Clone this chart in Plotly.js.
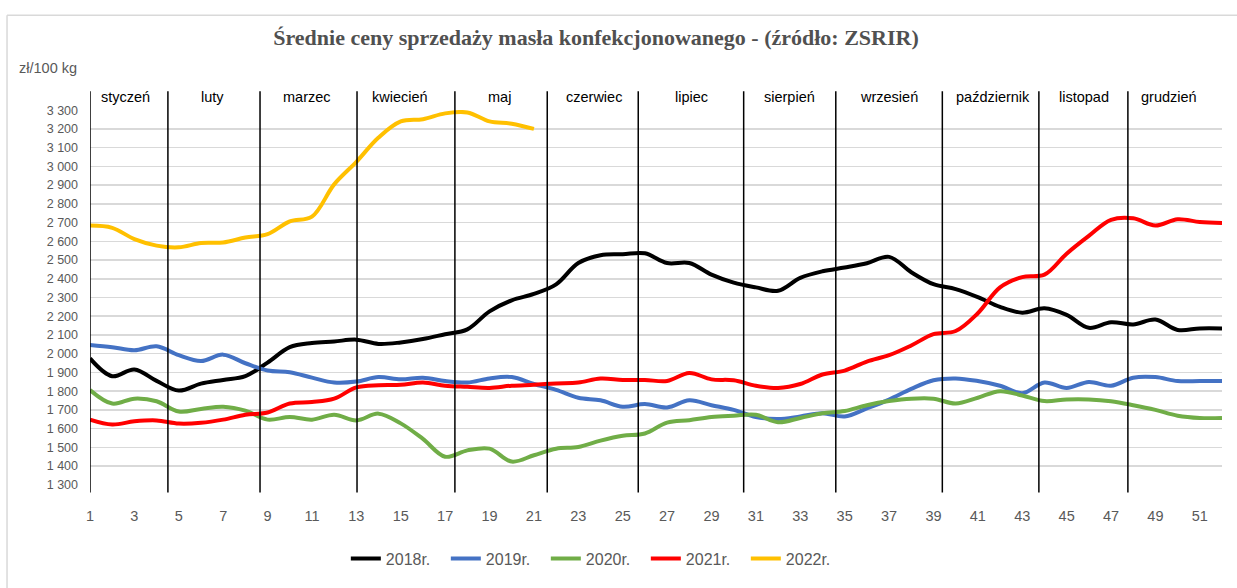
<!DOCTYPE html>
<html>
<head>
<meta charset="utf-8">
<script src="https://cdn.plot.ly/plotly-3.0.1.min.js"></script>
<style>html,body{margin:0;padding:0;background:#fff;}#chart{width:1237px;height:588px;}</style>
</head>
<body>
<div id="chart"></div>
<script>
// ---- data ----
const weeks = [1,2,3,4,5,6,7,8,9,10,11,12,13,14,15,16,17,18,19,20,21,22,23,24,25,26,27,28,29,30,31,32,33,34,35,36,37,38,39,40,41,42,43,44,45,46,47,48,49,50,51,52];
const s2018 = [1975,1880,1916,1855,1803,1840,1860,1880,1952,2035,2057,2065,2075,2052,2060,2078,2104,2130,2226,2285,2319,2370,2484,2526,2531,2536,2484,2484,2422,2379,2354,2336,2405,2440,2460,2483,2517,2435,2371,2345,2302,2250,2219,2242,2207,2138,2168,2156,2182,2127,2135,2135];
const s2019 = [2047,2035,2018,2040,1992,1961,1995,1949,1910,1901,1872,1846,1851,1875,1863,1872,1854,1846,1868,1875,1838,1807,1765,1751,1717,1731,1713,1751,1725,1700,1662,1651,1665,1682,1665,1708,1755,1812,1858,1868,1854,1829,1789,1846,1817,1849,1829,1872,1875,1854,1854,1854];
const s2020 = [1806,1734,1760,1746,1691,1705,1717,1696,1648,1662,1648,1674,1644,1680,1628,1545,1450,1484,1493,1424,1458,1493,1502,1536,1562,1574,1632,1645,1662,1669,1674,1634,1657,1682,1694,1725,1747,1760,1760,1734,1765,1800,1777,1747,1756,1756,1746,1725,1700,1669,1657,1657];
const s2021 = [1648,1622,1639,1644,1627,1631,1648,1674,1686,1734,1742,1760,1820,1832,1834,1846,1829,1823,1817,1829,1834,1841,1846,1867,1860,1860,1854,1897,1863,1858,1829,1817,1838,1889,1910,1958,1992,2044,2104,2121,2216,2354,2409,2422,2534,2629,2715,2723,2684,2718,2703,2698];
const s2022 = [2684,2672,2612,2577,2568,2591,2594,2620,2638,2706,2732,2904,3024,3154,3240,3252,3283,3288,3240,3228,3200];
const seriesNames = ['2018r.','2019r.','2020r.','2021r.','2022r.'];
const months = ['styczeń','luty','marzec','kwiecień','maj','czerwiec','lipiec','sierpień','wrzesień','październik','listopad','grudzień'];
const monthLabelWeek = [2.6,6.5,10.77,14.96,19.47,23.7,28.1,32.5,37.0,41.68,45.8,49.6];
const monthBoundaryWeek = [1,4.51,8.66,13.03,17.44,21.6,25.7,30.45,34.6,39.4,43.75,47.76];
const xTickVals = [1,3,5,7,9,11,13,15,17,19,21,23,25,27,29,31,33,35,37,39,41,43,45,47,49,51];
const yTickVals = [1300,1400,1500,1600,1700,1800,1900,2000,2100,2200,2300,2400,2500,2600,2700,2800,2900,3000,3100,3200,3300];
const yTickText = ['1 300','1 400','1 500','1 600','1 700','1 800','1 900','2 000','2 100','2 200','2 300','2 400','2 500','2 600','2 700','2 800','2 900','3 000','3 100','3 200','3 300'];

// ---- styles ----
const colors = ['#000000','#4472C4','#70AD47','#FF0000','#FFC000'];
const allSeries = [s2018, s2019, s2020, s2021, s2022];
const gray = '#595959';
const sans = 'Liberation Sans, Arial, sans-serif';

const traces = allSeries.map((s, i) => ({
  type: 'scatter', mode: 'lines',
  x: weeks.slice(0, s.length), y: s,
  name: seriesNames[i],
  line: {color: colors[i], width: 4, shape: 'spline', smoothing: 1}
}));

const shapes = monthBoundaryWeek.map(b => ({
  type: 'line', xref: 'x', yref: 'paper',
  x0: b, x1: b, y0: -0.02, y1: 1.05,
  line: {color: '#000000', width: 1.5}
}));
// outer frame (top and left edges)
shapes.push({type: 'line', xref: 'paper', yref: 'paper', x0: -0.0733, x1: 1.02, y0: 1.253, y1: 1.253, line: {color: '#d9d9d9', width: 1.5}});
shapes.push({type: 'line', xref: 'paper', yref: 'paper', x0: -0.0733, x1: -0.0733, y0: 1.253, y1: -0.3, line: {color: '#d9d9d9', width: 1.5}});

const annotations = months.map((m, i) => ({
  text: m, xref: 'x', yref: 'paper', x: monthLabelWeek[i], y: 1.0336,
  xanchor: 'center', yanchor: 'middle', showarrow: false,
  font: {family: sans, size: 14.5, color: '#000000'}
}));
annotations.push({
  text: 'zł/100 kg', xref: 'paper', yref: 'paper', x: -0.0645, y: 1.111,
  xanchor: 'left', yanchor: 'middle', showarrow: false,
  font: {family: sans, size: 14.5, color: gray}
});

const layout = {
  width: 1237, height: 588,
  margin: {l: 90, r: 15, t: 110, b: 91},
  paper_bgcolor: '#ffffff', plot_bgcolor: '#ffffff',
  title: {
    text: '<b>Średnie ceny sprzedaży masła konfekcjonowanego - (źródło: ZSRIR)</b>',
    font: {family: 'Liberation Serif, Times New Roman, serif', size: 22, color: '#505050'},
    xref: 'paper', x: 0.447, xanchor: 'center',
    yref: 'container', y: 0.937, yanchor: 'middle'
  },
  xaxis: {
    range: [1, 52], tickvals: xTickVals,
    showgrid: false, zeroline: false, showline: false, ticks: '',
    ticklabelstandoff: 20,
    tickfont: {family: sans, size: 14.5, color: gray}
  },
  yaxis: {
    range: [1299, 3301], tickvals: yTickVals, ticktext: yTickText,
    showgrid: true, gridcolor: '#d9d9d9', gridwidth: 1.5,
    zeroline: false, showline: false, ticks: '',
    ticklabelstandoff: 11,
    tickfont: {family: sans, size: 12.5, color: gray}
  },
  showlegend: true,
  legend: {
    orientation: 'h', x: 0.226, xanchor: 'left', y: -0.196, yanchor: 'middle',
    font: {family: sans, size: 16, color: gray},
    bgcolor: 'rgba(0,0,0,0)', entrywidth: 55, entrywidthmode: 'pixels'
  },
  shapes: shapes,
  annotations: annotations
};

Plotly.newPlot('chart', traces, layout, {displayModeBar: false, staticPlot: true});
</script>
</body>
</html>
